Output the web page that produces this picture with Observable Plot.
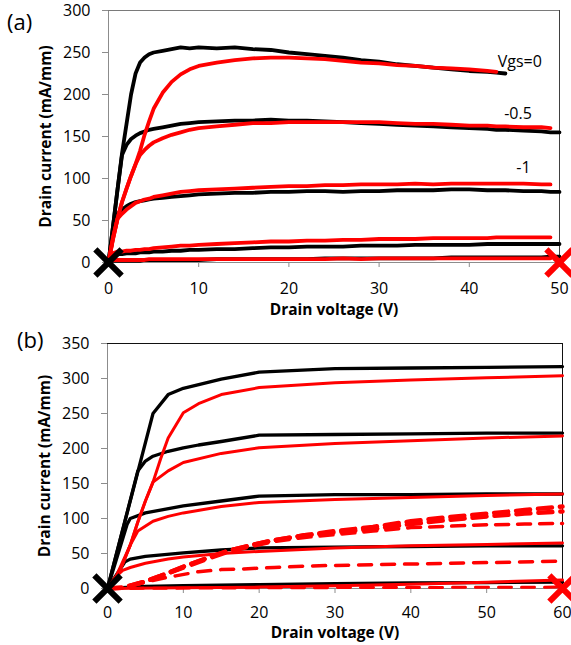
<!DOCTYPE html>
<html>
<head>
<meta charset="utf-8">
<script src="https://cdn.jsdelivr.net/npm/d3@7"></script>
<script src="https://cdn.jsdelivr.net/npm/@observablehq/plot@0.6"></script>
<style>
  body { margin: 0; background: #fff; }
  #fig { position: relative; width: 571px; height: 645px; overflow: hidden; font-family: "Open Sans", sans-serif; }
  .panel { position: absolute; left: 0; }
  .tag { position: absolute; font-size: 22px; line-height: 22px; color: #000; }
</style>
</head>
<body>
<div id="fig">
  <div id="pa" class="panel" style="top:0"></div>
  <div id="pb" class="panel" style="top:320px"></div>
  <div class="tag" style="left:7px;top:10px">(a)</div>
  <div class="tag" style="left:17px;top:328px">(b)</div>
</div>
<script>
// ---------- Panel (a): measured output curves, drain voltage grid (V) ----------
const vA = [0,0.5,1,1.5,2,2.5,3,3.5,4,4.5,5,6,7,8,9,10,12,14,16,18,20,22,24,26,28,30,32,34,36,38,40,42,43,44,46,48,49,50];

// black traces, Vgs = 0, -0.5, -1, -1.5, -2 (mA/mm)
const blackA0 = [0,43,87,130,165,200,225,238,244,248, 250,252,254,256,255,256,255,256,254,253, 250,248,246,244,241,239,236,234,232,230, 228,227,226,225,null,null,null,null];
const blackA1 = [0,43,87,128,140,147,151,154,156,158, 159,161,163,165,166,167,168,169,169,170, 169,169,168,167,166,165,164,163,162,161, 160,159,158,158,157,156,155,155];
const blackA2 = [0,32,58,63,67,70,72,73,74,75, 76,77,78,79,80,81,82,83,83,84, 84,85,85,84,85,85,86,86,86,87, 87,86,86,86,85,85,84,84];
const blackA3 = [0,8,10,10,11,11,11,12,12,12, 13,13,14,14,15,15,16,16,17,18, 18,19,19,19,20,20,20,21,21,21, 21,22,22,22,22,22,22,22];
const blackA4 = [0,2,2,2,2,2,2,2,3,3, 3,3,3,3,3,3,4,4,4,4, 4,4,5,5,5,5,5,5,5,6, 6,6,6,6,6,6,7,7];

// red traces, same gate voltages
const redA0 = [0,28,52,72,88,103,117,133,152,168, 183,202,215,224,230,234,238,241,243,244, 244,243,242,240,238,237,235,234,232,231, 230,228,227,null,null,null,null,null];
const redA1 = [0,28,52,72,88,103,117,128,134,139, 143,148,152,155,158,160,162,164,166,166, 167,167,167,167,167,167,166,165,165,164, 163,163,162,162,161,161,160,null];
const redA2 = [0,30,52,58,63,67,71,73,75,76, 78,80,82,84,85,86,87,88,89,90, 91,91,92,92,93,93,93,94,93,94, 94,94,94,94,94,93,93,null];
const redA3 = [0,11,13,13,14,14,15,15,16,16, 17,18,19,20,20,21,22,23,24,25, 25,26,26,27,27,28,28,28,29,29, 29,29,30,30,30,30,30,null];
const redA4 = [0,3,3,3,3,3,3,3,3,4, 4,4,4,4,4,4,4,4,4,4, 4,4,4,5,4,5,5,5,5,5, 5,5,5,5,5,5,5,null];

// gate-voltage annotations: text, drain voltage, current
const gateLabels = ["Vgs=0", "-0.5", "-1"];
const gateLabelV = [45.6, 45.4, 46];
const gateLabelI = [239, 177.5, 113];

const ticksXA = [0,10,20,30,40,50];
const ticksYA = [0,50,100,150,200,250,300];

// ---------- Panel (b): simulated output curves, [V, mA/mm] ----------
const blackB0 = [[0,0],[6,250],[8,277],[10,286],[15,299],[20,309],[30,314],[40,315],[50,316],[60,317]];
const blackB1 = [[0,0],[4,168],[5,182],[6,189],[8,196],[10,201],[12,205],[15,210],[20,219],[30,220],[40,221],[50,222],[60,222]];
const blackB2 = [[0,0],[2.6,92],[3,100],[5,108],[10,118],[15,125],[20,132],[30,134],[40,134],[50,135],[60,135]];
const blackB3 = [[0,0],[2.3,38],[3,42],[5,46],[10,51],[15,55],[20,58],[30,59],[40,60],[50,61],[60,61]];
const blackB4 = [[0,0],[5,3],[10,4],[20,5.5],[30,7],[40,8],[50,8.5],[60,9]];

const redB0 = [[0,0],[1,12],[2,35],[3,62],[4,95],[5,125],[6,152],[7,185],[8,215],[10,251],[12,264],[15,277],[20,287],[30,294],[40,298],[50,301],[60,304]];
const redB1 = [[0,0],[1,12],[2,35],[3,62],[4,95],[5,125],[6,152],[8,168],[10,180],[15,193],[20,201],[30,207],[40,211],[50,215],[60,218]];
const redB2 = [[0,0],[1,14],[2,38],[3,62],[4,82],[6,96],[8,103],[10,108],[15,117],[20,123],[30,127],[40,130],[50,133],[60,135]];
const redB3 = [[0,0],[1,16],[2,26],[3,30],[5,36],[8,42],[10,45],[15,50],[20,53],[30,58],[40,61],[50,63],[60,65]];
const redB4 = [[0,0],[10,1],[20,2],[30,4],[40,6],[50,9],[60,12]];

const dashB0 = [[0,0],[2,1],[3,4],[5,10],[7,18],[10,31],[13,43],[16,54],[19,62],[22,69],[26,76],[30,82],[35,88],[40,96],[45,102],[50,107],[55,112],[60,117]];
const dashB1 = [[0,0],[2,1],[3,4],[5,10],[7,18],[10,31],[13,43],[16,54],[19,62],[22,69],[26,76],[30,80],[35,85],[40,92],[45,98],[50,103],[55,107],[60,110]];
const dashB2 = [[0,0],[2,1],[3,4],[5,10],[7,17],[10,29],[13,41],[16,52],[19,60],[22,67],[26,73],[30,77],[35,82],[40,87],[45,89],[50,91],[55,92],[60,93]];
const dashB3 = [[0,0],[2,1],[3,4],[5,9],[7,14],[9,18],[12,24],[15,27],[18,28],[22,30],[26,32],[30,33],[40,35],[50,37],[60,39]];
const dashB4 = [[0,0],[20,1],[40,1.5],[60,2]];

const ticksXB = [0,10,20,30,40,50,60];
const ticksYB = [0,50,100,150,200,250,300,350];

// ---------- shared styling ----------
const AXIS_GRAY = "#8c8c8c";
const RED = "#ff0000";
const baseStyle = {fontFamily: "'Open Sans', sans-serif", fontSize: "16px", color: "#000", background: "transparent", overflow: "visible"};

function axisMarks(ticksX, ticksY, xMax, yMax, borderColor, xTickPad, xLabelDy) {
  return [
    Plot.ruleX([0], {stroke: AXIS_GRAY}),
    Plot.ruleY([0], {stroke: AXIS_GRAY}),
    Plot.ruleY([yMax], {stroke: borderColor.top}),
    Plot.ruleX([xMax], {stroke: borderColor.right}),
    Plot.axisY(ticksY, {tickSize: 6, tickPadding: 12, stroke: AXIS_GRAY, fill: "#000", label: null}),
    Plot.axisX(ticksX, {tickSize: 5, tickPadding: xTickPad, stroke: AXIS_GRAY, fill: "#000", label: null}),
    Plot.text(["Drain current (mA/mm)"], {frameAnchor: "left", dx: -62, rotate: -90, textAnchor: "middle", lineAnchor: "middle", fontWeight: "bold", fontSize: 15.5}),
    Plot.text(["Drain voltage (V)"], {frameAnchor: "bottom", dy: xLabelDy, textAnchor: "middle", lineAnchor: "middle", fontWeight: "bold", fontSize: 15.5}),
  ];
}

function crossMarks(xEnd) {
  return [
    Plot.dot([[0, 0]], {symbol: "times", r: 12, stroke: "#000", strokeWidth: 6}),
    Plot.dot([[xEnd, 0]], {symbol: "times", r: 12, stroke: RED, strokeWidth: 6}),
  ];
}

const lineA = (ys, color) => Plot.line(vA, {x: vA, y: ys, stroke: color, strokeWidth: 3.8, strokeLinejoin: "round"});

const plotA = Plot.plot({
  width: 571, height: 320,
  marginLeft: 108, marginRight: 12, marginTop: 10, marginBottom: 58,
  x: {domain: [0, 50]},
  y: {domain: [0, 300]},
  style: baseStyle,
  marks: [
    ...axisMarks(ticksXA, ticksYA, 50, 300, {top: "#7a7a7a", right: "#404040"}, 15, 48),
    ...[blackA0, blackA1, blackA2, blackA3, blackA4].map(s => lineA(s, "#000")),
    ...[redA0, redA1, redA2, redA3, redA4].map(s => lineA(s, RED)),
    Plot.text(gateLabels, {x: gateLabelV, y: gateLabelI, text: gateLabels, fontSize: 16, fill: "#000"}),
    ...crossMarks(50),
  ]
});
document.getElementById("pa").append(plotA);

const lineB = (pts, color, w, dash) => Plot.line(pts, {stroke: color, strokeWidth: w, strokeLinejoin: "round", strokeDasharray: dash});

const plotB = Plot.plot({
  width: 571, height: 325,
  marginLeft: 107, marginRight: 9, marginTop: 23, marginBottom: 57,
  x: {domain: [0, 60]},
  y: {domain: [0, 350]},
  style: baseStyle,
  marks: [
    ...axisMarks(ticksXB, ticksYB, 60, 350, {top: "#111", right: "#111"}, 13, 45),
    ...[blackB0, blackB1, blackB2, blackB3, blackB4].map(s => lineB(s, "#000", 3.3)),
    ...[redB0, redB1, redB2, redB3, redB4].map(s => lineB(s, RED, 3)),
    lineB(dashB0, RED, 4.5, "14,8"),
    lineB(dashB1, RED, 4.5, "14,8"),
    lineB(dashB2, RED, 3.5, "13,9"),
    lineB(dashB3, RED, 3.5, "13,10"),
    lineB(dashB4, RED, 3, "13,10"),
    ...crossMarks(60),
  ]
});
document.getElementById("pb").append(plotB);
</script>
</body>
</html>
